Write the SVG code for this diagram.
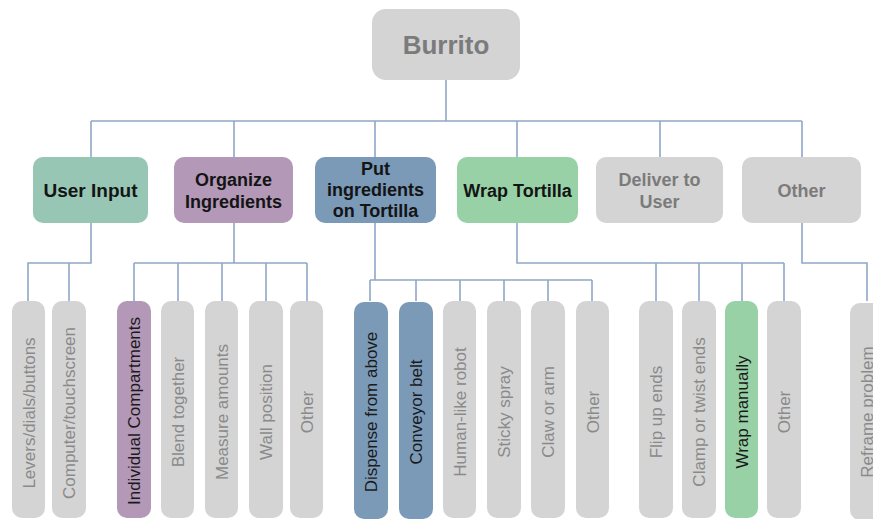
<svg xmlns="http://www.w3.org/2000/svg" width="873" height="519" viewBox="0 0 873 519">
<style>
.bg{fill:#ffffff}
.ln{fill:none;stroke:#8ea8c6;stroke-width:1.6}
.gray{fill:#d4d4d4}
.teal{fill:#97c6b4}
.mauve{fill:#b398b7}
.blue{fill:#7a9ab8}
.green{fill:#97d1a5}
.t1{font-family:"Liberation Sans",Arial,sans-serif;font-weight:bold;font-size:18px;text-anchor:middle}
.dark{fill:#141414}
.gt{fill:#7b7b7b}
.lf{font-family:"Liberation Sans",Arial,sans-serif;font-size:17px;text-anchor:middle}
.lg{fill:#8a8a8a}
.ld{fill:#1a1a1a}
</style>
<rect class="bg" width="873" height="519"/>
<g id="connectors">
<path class="ln" d="M446,80V121M91,121H802M91,121V158M234,121V158M375,121V158M517,121V158M660,121V158M802,121V158"/>
<path class="ln" d="M91,223V263H28V301M69,263V301"/>
<path class="ln" d="M234,223V263M134,263H307M134,263V301M178,263V301M222,263V301M266,263V301M307,263V301"/>
<path class="ln" d="M375,223V280M370,280H592M370,280V301M416,280V301M460,280V301M504,280V301M548,280V301M592,280V301"/>
<path class="ln" d="M517,223V263H784M656,263V301M699,263V301M742,263V301M784,263V301"/>
<path class="ln" d="M802,223V263H867V301"/>
</g>
<g id="root"><rect class="gray" x="372" y="9" width="148" height="71" rx="14"/><text class="t1 gt" x="446" y="54" style="font-size:26px">Burrito</text></g>
<g id="n-user-input"><rect class="teal" x="33" y="157" width="115" height="66" rx="10"/><text class="t1 dark" x="90.5" y="197" style="font-size:19px">User Input</text></g>
<g id="n-organize"><rect class="mauve" x="174" y="157" width="119" height="66" rx="10"/><text class="t1 dark" x="233.5" y="186">Organize</text><text class="t1 dark" x="233.5" y="208">Ingredients</text></g>
<g id="n-put"><rect class="blue" x="315" y="157" width="121" height="66" rx="10"/><text class="t1 dark" x="375.5" y="175">Put</text><text class="t1 dark" x="375.5" y="196">ingredients</text><text class="t1 dark" x="375.5" y="217">on Tortilla</text></g>
<g id="n-wrap"><rect class="green" x="457" y="157" width="121" height="66" rx="10"/><text class="t1 dark" x="517.5" y="197">Wrap Tortilla</text></g>
<g id="n-deliver"><rect class="gray" x="596" y="157" width="127" height="66" rx="10"/><text class="t1 gt" x="659.5" y="186">Deliver to</text><text class="t1 gt" x="659.5" y="208">User</text></g>
<g id="n-other"><rect class="gray" x="742" y="157" width="119" height="66" rx="10"/><text class="t1 gt" x="801.5" y="197">Other</text></g>
<g id="l-levers"><rect class="gray" x="12" y="301" width="33" height="217" rx="10"/><text class="lf lg" transform="translate(34.5,413) rotate(-90)">Levers/dials/buttons</text></g>
<g id="l-computer"><rect class="gray" x="52" y="301" width="34" height="217" rx="10"/><text class="lf lg" transform="translate(75,413) rotate(-90)">Computer/touchscreen</text></g>
<g id="l-individual"><rect class="mauve" x="117" y="301" width="34" height="217" rx="10"/><text class="lf ld" transform="translate(140,411) rotate(-90)">Individual Compartments</text></g>
<g id="l-blend"><rect class="gray" x="161" y="301" width="33" height="217" rx="10"/><text class="lf lg" transform="translate(183.5,412) rotate(-90)">Blend together</text></g>
<g id="l-measure"><rect class="gray" x="205" y="301" width="33" height="217" rx="10"/><text class="lf lg" transform="translate(227.5,412) rotate(-90)">Measure amounts</text></g>
<g id="l-wall"><rect class="gray" x="249" y="301" width="34" height="217" rx="10"/><text class="lf lg" transform="translate(272,412) rotate(-90)">Wall position</text></g>
<g id="l-other1"><rect class="gray" x="290" y="301" width="33" height="217" rx="10"/><text class="lf lg" transform="translate(312.5,412) rotate(-90)">Other</text></g>
<g id="l-dispense"><rect class="blue" x="354" y="302" width="34" height="217" rx="10"/><text class="lf ld" transform="translate(377,412) rotate(-90)">Dispense from above</text></g>
<g id="l-conveyor"><rect class="blue" x="399" y="302" width="34" height="217" rx="10"/><text class="lf ld" transform="translate(422,412) rotate(-90)">Conveyor belt</text></g>
<g id="l-human"><rect class="gray" x="443" y="301" width="33" height="217" rx="10"/><text class="lf lg" transform="translate(465.5,412) rotate(-90)">Human-like robot</text></g>
<g id="l-sticky"><rect class="gray" x="487" y="301" width="34" height="217" rx="10"/><text class="lf lg" transform="translate(510,412) rotate(-90)">Sticky spray</text></g>
<g id="l-claw"><rect class="gray" x="531" y="301" width="34" height="217" rx="10"/><text class="lf lg" transform="translate(554,412) rotate(-90)">Claw or arm</text></g>
<g id="l-other2"><rect class="gray" x="576" y="301" width="33" height="217" rx="10"/><text class="lf lg" transform="translate(598.5,412) rotate(-90)">Other</text></g>
<g id="l-flip"><rect class="gray" x="639" y="301" width="34" height="217" rx="10"/><text class="lf lg" transform="translate(662,412) rotate(-90)">Flip up ends</text></g>
<g id="l-clamp"><rect class="gray" x="682" y="301" width="34" height="217" rx="10"/><text class="lf lg" transform="translate(705,412) rotate(-90)">Clamp or twist ends</text></g>
<g id="l-wrapman"><rect class="green" x="725" y="301" width="33" height="217" rx="10"/><text class="lf ld" transform="translate(747.5,412) rotate(-90)">Wrap manually</text></g>
<g id="l-other3"><rect class="gray" x="767" y="301" width="34" height="217" rx="10"/><text class="lf lg" transform="translate(790,412) rotate(-90)">Other</text></g>
<g id="l-reframe"><rect class="gray" x="850" y="303" width="34" height="217" rx="10"/><text class="lf lg" transform="translate(873,412) rotate(-90)">Reframe problem</text></g>
</svg>
